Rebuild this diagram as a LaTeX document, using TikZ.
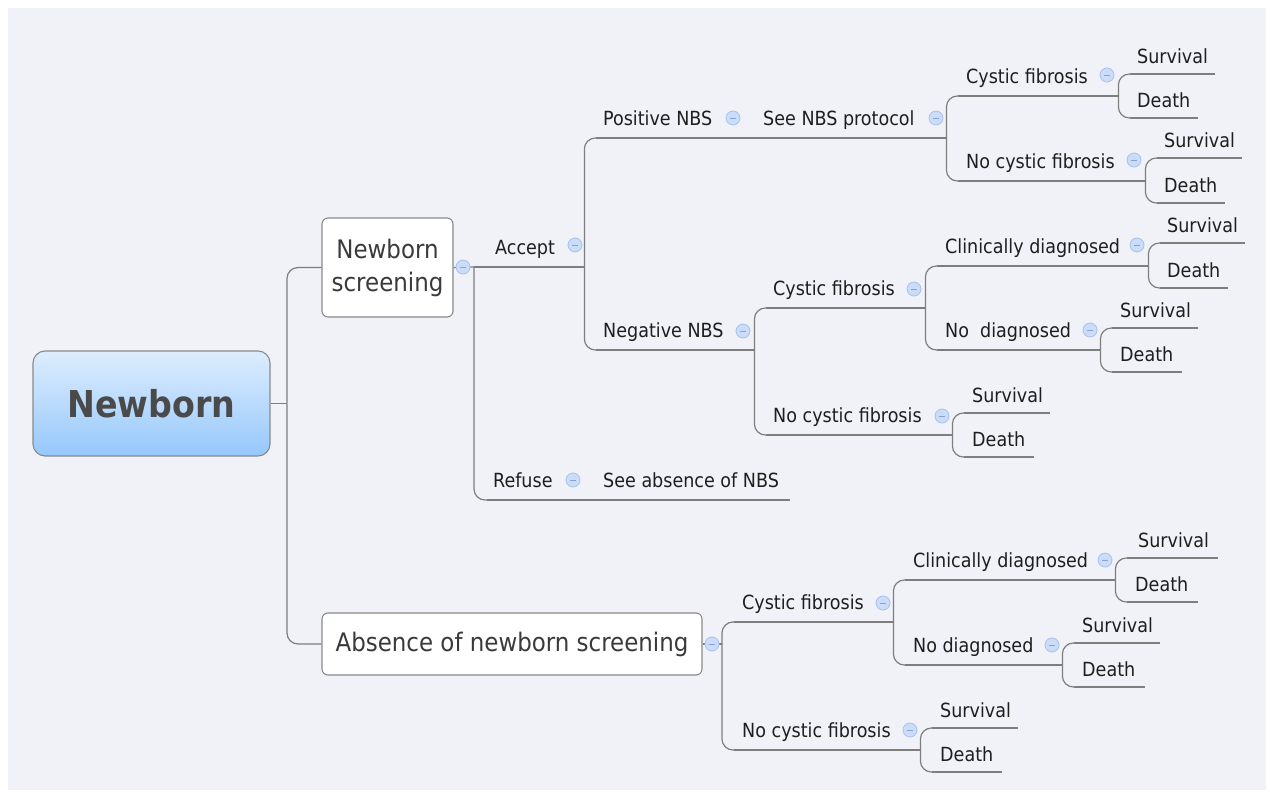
\documentclass[tikz,border=0pt]{standalone}
\usepackage{fontspec}
\setmainfont{DejaVu Sans Condensed}
\definecolor{panel}{HTML}{F1F2F8}
\definecolor{lineC}{HTML}{7E7E7E}
\definecolor{boxB}{HTML}{8A8A8A}
\definecolor{txtC}{HTML}{1E1E1E}
\definecolor{boxT}{HTML}{3A3A3A}
\definecolor{rootT}{HTML}{4A4A4A}
\definecolor{rootTop}{HTML}{DDEDFD}
\definecolor{rootBot}{HTML}{96C8FC}
\definecolor{icF}{HTML}{CADCF8}
\definecolor{icB}{HTML}{A6C2EE}
\definecolor{icM}{HTML}{8AA2CC}
\tikzset{
  conn/.style={draw=lineC, line width=1.2pt, rounded corners=11pt},
  topic/.style={inner sep=0pt, text height=15pt, font=\fontsize{19.5}{24}\selectfont, text=txtC},
  sbox/.style={draw=boxB, fill=white, rounded corners=6pt, line width=1.1pt,
    font=\fontsize{25.5}{33}\selectfont, text=boxT, align=center, inner sep=0pt},
  rootbox/.style={draw=boxB, top color=rootTop, bottom color=rootBot, rounded corners=12pt,
    line width=1.1pt, font=\fontsize{37}{44}\selectfont\bfseries, text=rootT, inner sep=0pt},
  icon/.style={circle, minimum size=14pt, inner sep=0pt, fill=icF, draw=icB, line width=0.8pt,
    path picture={\draw[icM, line width=0.9pt] ([xshift=-3pt]path picture bounding box.center) -- ([xshift=3pt]path picture bounding box.center);}},
}
% name, x0 (line start), xt (text start), x1 (line end), y (line), text; optional: depth below baseline
\newcommand\topicnode[7][12]{%
  \pgfmathsetmacro\tnW{#5-#3}%
  \pgfmathsetmacro\tnP{#4-#3}%
  \node[topic, text depth=#1pt, minimum width=\tnW pt, anchor=south west] (#2) at (#3,#6)
    {\makebox[\tnW pt][l]{\hspace*{\tnP pt}#7}};
  \draw[conn] (#2.south west) -- (#2.south east);
}
\begin{document}
\begin{tikzpicture}[x=1pt,y=-1pt]
\useasboundingbox (0,0) rectangle (1270,794);
\fill[white] (0,0) rectangle (1270,794);
\fill[panel] (8,8) rectangle (1266,790);

% boxes
\node[rootbox, minimum width=237pt, minimum height=105pt] (root) at (151.5,403.5) {Newborn};
\node[sbox, minimum width=131pt, minimum height=99pt] (nbs) at (387.5,267.5) {Newborn\\screening};
\node[sbox, minimum width=380pt, minimum height=62pt] (abs) at (512,644) {Absence of newborn screening};

\coordinate (rj) at (287,403.5);
\coordinate (nj) at (474,267);
\coordinate (aj) at (722,644);

\draw[conn] (root.east) -- (rj);
\draw[conn] (rj) |- (nbs.west);
\draw[conn] (rj) |- (abs.west);
\draw[conn] (nbs.east) -- (nj);
\draw[conn] (abs.east) -- (aj);

% Newborn screening branch
\topicnode{acc}{474}{495}{584}{267}{Accept}
\topicnode{ref}{487}{493}{590}{500}{Refuse}
\topicnode{seeabs}{590}{603}{790}{500}{See absence of NBS}
\draw[conn] (nj) -- (acc.south west);
\draw[conn] (nj) |- (ref.south west);
\draw[conn] (ref.south east) -- (seeabs.south west);

\topicnode{pos}{596}{603}{750}{138}{Positive NBS}
\topicnode{seenbs}{750}{763}{946}{138}{See NBS protocol}
\topicnode{neg}{596}{603}{754}{350}{Negative NBS}
\draw[conn] (acc.south east) |- (pos.south west);
\draw[conn] (acc.south east) |- (neg.south west);
\draw[conn] (pos.south east) -- (seenbs.south west);

% positive NBS subtree
\topicnode{cfp}{958}{966}{1118}{96}{Cystic fibrosis}
\topicnode{ncfp}{958}{966}{1145}{181}{No cystic fibrosis}
\draw[conn] (seenbs.south east) |- (cfp.south west);
\draw[conn] (seenbs.south east) |- (ncfp.south west);
\topicnode[10]{cfpS}{1130}{1137}{1215}{74}{Survival}
\topicnode[10]{cfpD}{1130}{1137}{1198}{118}{Death}
\draw[conn] (cfp.south east) |- (cfpS.south west);
\draw[conn] (cfp.south east) |- (cfpD.south west);
\topicnode[10]{ncfpS}{1157}{1164}{1242}{158}{Survival}
\topicnode[10]{ncfpD}{1157}{1164}{1225}{203}{Death}
\draw[conn] (ncfp.south east) |- (ncfpS.south west);
\draw[conn] (ncfp.south east) |- (ncfpD.south west);

% negative NBS subtree
\topicnode{cfn}{766}{773}{925}{308}{Cystic fibrosis}
\topicnode{ncfn}{766}{773}{952}{435}{No cystic fibrosis}
\draw[conn] (neg.south east) |- (cfn.south west);
\draw[conn] (neg.south east) |- (ncfn.south west);
\topicnode{cdn}{937}{945}{1148}{266}{Clinically diagnosed}
\topicnode{ndn}{937}{945}{1100}{350}{No~ diagnosed}
\draw[conn] (cfn.south east) |- (cdn.south west);
\draw[conn] (cfn.south east) |- (ndn.south west);
\topicnode[10]{cdnS}{1160}{1167}{1245}{243}{Survival}
\topicnode[10]{cdnD}{1160}{1167}{1228}{288}{Death}
\draw[conn] (cdn.south east) |- (cdnS.south west);
\draw[conn] (cdn.south east) |- (cdnD.south west);
\topicnode[10]{ndnS}{1112}{1120}{1198}{328}{Survival}
\topicnode[10]{ndnD}{1112}{1120}{1182}{372}{Death}
\draw[conn] (ndn.south east) |- (ndnS.south west);
\draw[conn] (ndn.south east) |- (ndnD.south west);
\topicnode[10]{ncfnS}{964}{972}{1050}{413}{Survival}
\topicnode[10]{ncfnD}{964}{972}{1034}{457}{Death}
\draw[conn] (ncfn.south east) |- (ncfnS.south west);
\draw[conn] (ncfn.south east) |- (ncfnD.south west);

% absence subtree
\topicnode{cfa}{734}{742}{893}{622}{Cystic fibrosis}
\topicnode{ncfa}{734}{742}{920}{750}{No cystic fibrosis}
\draw[conn] (aj) |- (cfa.south west);
\draw[conn] (aj) |- (ncfa.south west);
\topicnode{cda}{905}{913}{1115}{580}{Clinically diagnosed}
\topicnode{nda}{905}{913}{1062}{665}{No diagnosed}
\draw[conn] (cfa.south east) |- (cda.south west);
\draw[conn] (cfa.south east) |- (nda.south west);
\topicnode[10]{cdaS}{1127}{1138}{1218}{558}{Survival}
\topicnode[10]{cdaD}{1127}{1135}{1198}{602}{Death}
\draw[conn] (cda.south east) |- (cdaS.south west);
\draw[conn] (cda.south east) |- (cdaD.south west);
\topicnode[10]{ndaS}{1074}{1082}{1160}{643}{Survival}
\topicnode[10]{ndaD}{1074}{1082}{1145}{687}{Death}
\draw[conn] (nda.south east) |- (ndaS.south west);
\draw[conn] (nda.south east) |- (ndaD.south west);
\topicnode[10]{ncfaS}{932}{940}{1018}{728}{Survival}
\topicnode[10]{ncfaD}{932}{940}{1002}{772}{Death}
\draw[conn] (ncfa.south east) |- (ncfaS.south west);
\draw[conn] (ncfa.south east) |- (ncfaD.south west);

% collapse icons
\node[icon] (iNbs) at (463,267) {};
\node[icon] (iAbs) at (712,644) {};
\node[icon] (iAcc) at (575,245) {};
\node[icon] (iRef) at (573,480) {};
\node[icon] (iPos) at (733,118) {};
\node[icon] (iSee) at (936,118) {};
\node[icon] (iNeg) at (743,331) {};
\node[icon] (iCfp) at (1107,75) {};
\node[icon] (iNcfp) at (1134,160) {};
\node[icon] (iCfn) at (914,289) {};
\node[icon] (iNcfn) at (942,416) {};
\node[icon] (iCdn) at (1137,245) {};
\node[icon] (iNdn) at (1090,330) {};
\node[icon] (iCfa) at (883,603) {};
\node[icon] (iNcfa) at (910,730) {};
\node[icon] (iCda) at (1105,560) {};
\node[icon] (iNda) at (1052,645) {};
\end{tikzpicture}
\end{document}
